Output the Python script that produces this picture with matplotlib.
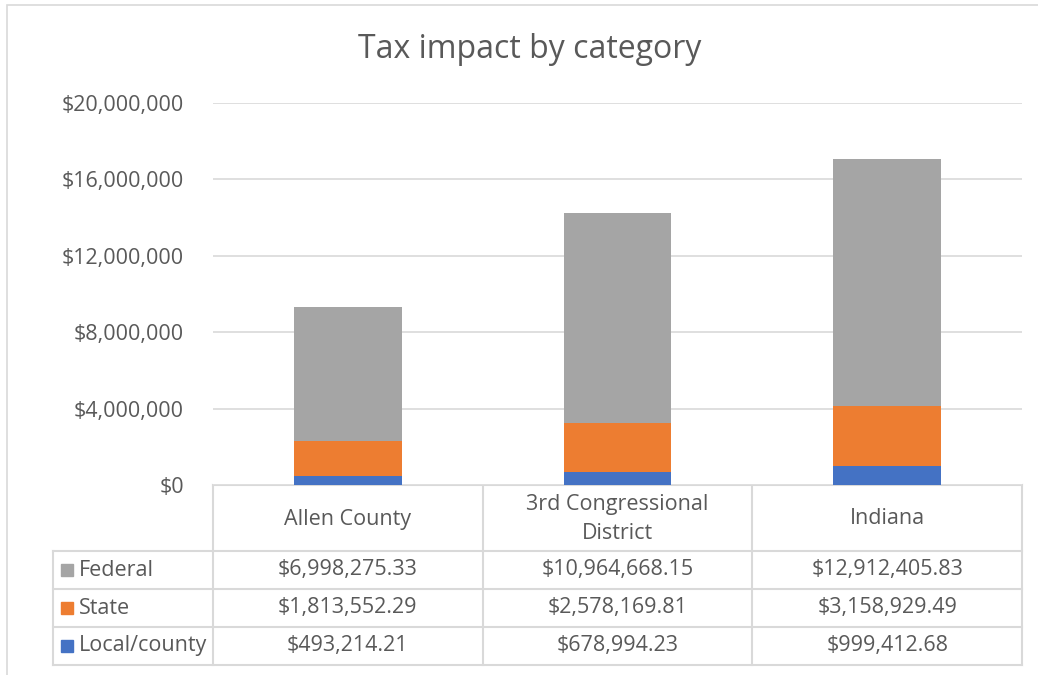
import matplotlib
matplotlib.use("Agg")
import matplotlib.pyplot as plt
from matplotlib.patches import Rectangle
from matplotlib.ticker import FuncFormatter
import numpy as np

plt.rcParams["font.family"] = ["Open Sans", "DejaVu Sans"]

categories = ["Allen County", "3rd Congressional\nDistrict", "Indiana"]
series_names = ["Federal", "State", "Local/county"]
federal = [6998275.33, 10964668.15, 12912405.83]
state = [1813552.29, 2578169.81, 3158929.49]
local = [493214.21, 678994.23, 999412.68]
colors = {"Federal": "#A5A5A5", "State": "#ED7D31", "Local/county": "#4472C4"}
yticks = [0, 4000000, 8000000, 12000000, 16000000, 20000000]

TXT = "#595959"
GRID = "#D9D9D9"
FS = 15.5

W, H = 1038, 675
fig = plt.figure(figsize=(W / 100, H / 100), dpi=100)

def fx(px):
    return px / W

def fy(py):
    return 1 - py / H

# outer chart border
fig.patches.append(Rectangle((fx(7), fy(700)), fx(1100), (700 - 5) / H,
                             transform=fig.transFigure, fill=False,
                             edgecolor=GRID, lw=1.2))

plot_l, plot_r, plot_t, plot_b = 213, 1022, 103, 485
ax = fig.add_axes([fx(plot_l), fy(plot_b), fx(plot_r - plot_l), (plot_b - plot_t) / H])

x = np.arange(len(categories))
bw = 0.4
ax.bar(x, local, bw, color=colors["Local/county"], zorder=3)
ax.bar(x, state, bw, bottom=local, color=colors["State"], zorder=3)
ax.bar(x, federal, bw, bottom=np.add(local, state), color=colors["Federal"], zorder=3)

ax.set_xlim(-0.5, len(categories) - 0.5)
ax.set_ylim(0, 20000000)
ax.set_yticks(yticks)
ax.yaxis.set_major_formatter(FuncFormatter(lambda v, p: f"${v:,.0f}"))
ax.tick_params(axis="y", length=0, pad=21, labelsize=FS, labelcolor=TXT)
ax.set_xticks([])
ax.grid(axis="y", color=GRID, lw=1.2, zorder=0)
for s in ax.spines.values():
    s.set_visible(False)

fig.text(fx(530), fy(50), "Tax impact by category", ha="center", va="center",
         fontsize=23, color=TXT)

# data table below the plot
tbl = fig.add_axes([0, 0, 1, 1], zorder=-1)
tbl.set_xlim(0, W)
tbl.set_ylim(H, 0)
tbl.axis("off")

col_w = (plot_r - plot_l) / len(categories)
col_edges = [plot_l + i * col_w for i in range(len(categories) + 1)]
leg_l = 53
row_edges = [485, 551, 589, 627, 665]
lc = dict(color=GRID, lw=1.5)

tbl.plot([plot_l, plot_r], [row_edges[0]] * 2, **lc)
for ce in col_edges:
    tbl.plot([ce, ce], [row_edges[0], row_edges[-1]], **lc)
for re_ in row_edges[1:]:
    tbl.plot([leg_l, plot_r], [re_, re_], **lc)
tbl.plot([leg_l, leg_l], [row_edges[1], row_edges[-1]], **lc)

for i, cat in enumerate(categories):
    cx = (col_edges[i] + col_edges[i + 1]) / 2
    tbl.text(cx, (row_edges[0] + row_edges[1]) / 2 + 1, cat, ha="center", va="center",
             fontsize=FS, color=TXT, linespacing=1.5)

rows = {"Federal": federal, "State": state, "Local/county": local}
for r, name in enumerate(series_names):
    cy = (row_edges[r + 1] + row_edges[r + 2]) / 2
    tbl.add_patch(Rectangle((61, cy - 6), 12, 12, color=colors[name]))
    tbl.text(79, cy, name, ha="left", va="center", fontsize=FS, color=TXT)
    for i, v in enumerate(rows[name]):
        cx = (col_edges[i] + col_edges[i + 1]) / 2
        tbl.text(cx, cy, f"${v:,.2f}", ha="center", va="center", fontsize=FS, color=TXT)

fig.savefig("out.png", dpi=100, facecolor="white")
